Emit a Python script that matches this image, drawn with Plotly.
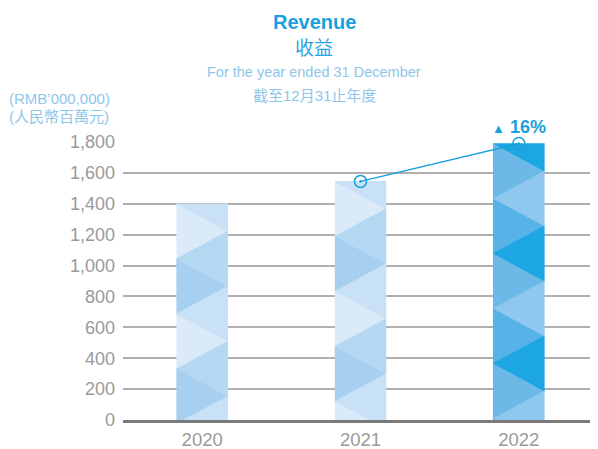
import plotly.graph_objects as go

# ---------------- data ----------------
years = ["2020", "2021", "2022"]
revenue = [1400, 1545, 1790]
y_tick_values = [0, 200, 400, 600, 800, 1000, 1200, 1400, 1600, 1800]
y_tick_labels = ["0", "200", "400", "600", "800", "1,000", "1,200", "1,400", "1,600", "1,800"]

title_en = "Revenue"
title_zh = "收益"
subtitle_en = "For the year ended 31 December"
subtitle_zh = "截至12月31止年度"
unit_en = "(RMB’000,000)"
unit_zh = "(人民幣百萬元)"

# ---------------- style ----------------
FONT = "Liberation Sans, Arial, Noto Sans CJK TC, sans-serif"
BLUE = "#1a9fdf"
LIGHT_BLUE = "#8ec6ea"
GREY = "#9a9a9a"

BAR_WIDTH = 0.322
TRI_STEP = 178  # half period of the zig-zag pattern (value units)

light_palette = {"left": ["#dbeaf9", "#a6cff0"], "right": ["#c9e1f6", "#b5d8f2"], "base": "#c9e1f6"}
dark_palette = {"left": ["#6cb9e7", "#56b2e7"], "right": ["#1ca6e2", "#8fc8ee"], "base": "#56b2e7"}
palettes = [light_palette, light_palette, dark_palette]


def clip(poly, lo, hi):
    def clip_half(pts, keep, edge):
        out = []
        n = len(pts)
        for i in range(n):
            cur = pts[i]
            prev = pts[i - 1]
            cin, pin = keep(cur), keep(prev)
            if cin:
                if not pin:
                    out.append(edge(prev, cur))
                out.append(cur)
            elif pin:
                out.append(edge(prev, cur))
        return out

    def inter(yv):
        def f(a, b):
            t = (yv - a[1]) / (b[1] - a[1])
            return (a[0] + t * (b[0] - a[0]), yv)
        return f

    pts = clip_half(poly, lambda p: p[1] >= lo, inter(lo))
    if pts:
        pts = clip_half(pts, lambda p: p[1] <= hi, inter(hi))
    return pts


x_pos = list(range(len(years)))

fig = go.Figure()

fig.add_trace(go.Bar(
    x=x_pos, y=revenue, width=BAR_WIDTH,
    marker=dict(color=[p["base"] for p in palettes], line=dict(width=0)),
    hoverinfo="x+y", showlegend=False,
))

# zig-zag triangle decoration inside each bar, derived from the bar values
for xi, top, pal in zip(x_pos, revenue, palettes):
    xl, xr = xi - BAR_WIDTH / 2, xi + BAR_WIDTH / 2
    groups = {}
    k = 0
    while top - 2 * k * TRI_STEP > 0:
        tri = [(xl, top - 2 * k * TRI_STEP), (xr, top - (2 * k + 1) * TRI_STEP),
               (xl, top - 2 * (k + 1) * TRI_STEP)]
        groups.setdefault(pal["left"][k % 2], []).append(clip(tri, 0, top))
        k += 1
    k = 0
    while top - (2 * k - 1) * TRI_STEP > 0:
        tri = [(xl, top - 2 * k * TRI_STEP), (xr, top - (2 * k - 1) * TRI_STEP),
               (xr, top - (2 * k + 1) * TRI_STEP)]
        groups.setdefault(pal["right"][k % 2], []).append(clip(tri, 0, top))
        k += 1
    for color, polys in groups.items():
        xs, ys = [], []
        for poly in polys:
            if len(poly) < 3:
                continue
            xs += [p[0] for p in poly] + [poly[0][0], None]
            ys += [p[1] for p in poly] + [poly[0][1], None]
        fig.add_trace(go.Scatter(
            x=xs, y=ys, mode="lines", fill="toself", fillcolor=color,
            line=dict(color=color, width=0.5), hoverinfo="skip", showlegend=False,
        ))

# growth line between last two years
fig.add_trace(go.Scatter(
    x=x_pos[1:], y=revenue[1:], mode="lines+markers",
    line=dict(color=BLUE, width=1.5),
    marker=dict(symbol="circle-open-dot", size=12, color=BLUE, line=dict(width=1.5)),
    cliponaxis=False, showlegend=False,
))

growth = round((revenue[2] / revenue[1] - 1) * 100)

# the page body adds an 8px margin, so the figure is drawn 8px smaller and
# every reference pixel position is shifted by that offset
OFF = 8
W, H = 598 - OFF, 449 - OFF
ML, MR, MT, MB = 123 - OFF, 0, 142 - OFF, 29
ph = H - MT - MB


def py(p):
    return (H - MB - (p - OFF)) / ph


def px(p):
    return ((p - OFF) - ML) / (W - ML - MR)


annotations = [
    dict(text=f"<b>{title_en}</b>", x=px(314), y=py(22), font=dict(size=20, color=BLUE)),
    dict(text=title_zh, x=px(314), y=py(48), font=dict(size=19, color="#2ea5e0")),
    dict(text=subtitle_en, x=px(314), y=py(72), font=dict(size=14.5, color=LIGHT_BLUE)),
    dict(text=subtitle_zh, x=px(314), y=py(96), font=dict(size=15, color=LIGHT_BLUE)),
]
for a in annotations:
    a.update(xref="paper", yref="paper", showarrow=False, xanchor="center", yanchor="middle")
    a["font"]["family"] = FONT

for txt, p in [(unit_en, 98), (unit_zh, 117)]:
    annotations.append(dict(text=txt, x=px(7), y=py(p), xref="paper", yref="paper",
                            xanchor="left", yanchor="middle", showarrow=False,
                            font=dict(size=15, color=LIGHT_BLUE, family=FONT)))

annotations.append(dict(
    text=f"<span style='font-size:13px'>▲</span> <b>{growth}%</b>",
    x=x_pos[2], y=py(127), xref="x", yref="paper", xanchor="center", yanchor="middle",
    showarrow=False, font=dict(size=18, color=BLUE, family=FONT),
))

fig.update_layout(
    width=W, height=H,
    margin=dict(l=ML, r=MR, t=MT, b=MB, pad=0, autoexpand=False),
    paper_bgcolor="white", plot_bgcolor="white",
    showlegend=False,
    bargap=0,
    annotations=annotations,
    xaxis=dict(
        range=[-0.5, 2.5], tickvals=x_pos, ticktext=years, automargin=False,
        showgrid=False, zeroline=False, showline=True, linecolor="#7a7a7a", linewidth=2.5,
        ticks="", ticklabelstandoff=1,
        tickfont=dict(size=18.5, color=GREY, family=FONT), fixedrange=True,
    ),
    yaxis=dict(
        range=[0, 1800], tickvals=y_tick_values, ticktext=y_tick_labels, automargin=False,
        showgrid=True, gridcolor="#b0b0b0", gridwidth=1.5, zeroline=False, showline=False,
        ticks="", ticklabelstandoff=7,
        tickfont=dict(size=18, color=GREY, family=FONT), fixedrange=True,
    ),
)

fig.write_html("out.html")
